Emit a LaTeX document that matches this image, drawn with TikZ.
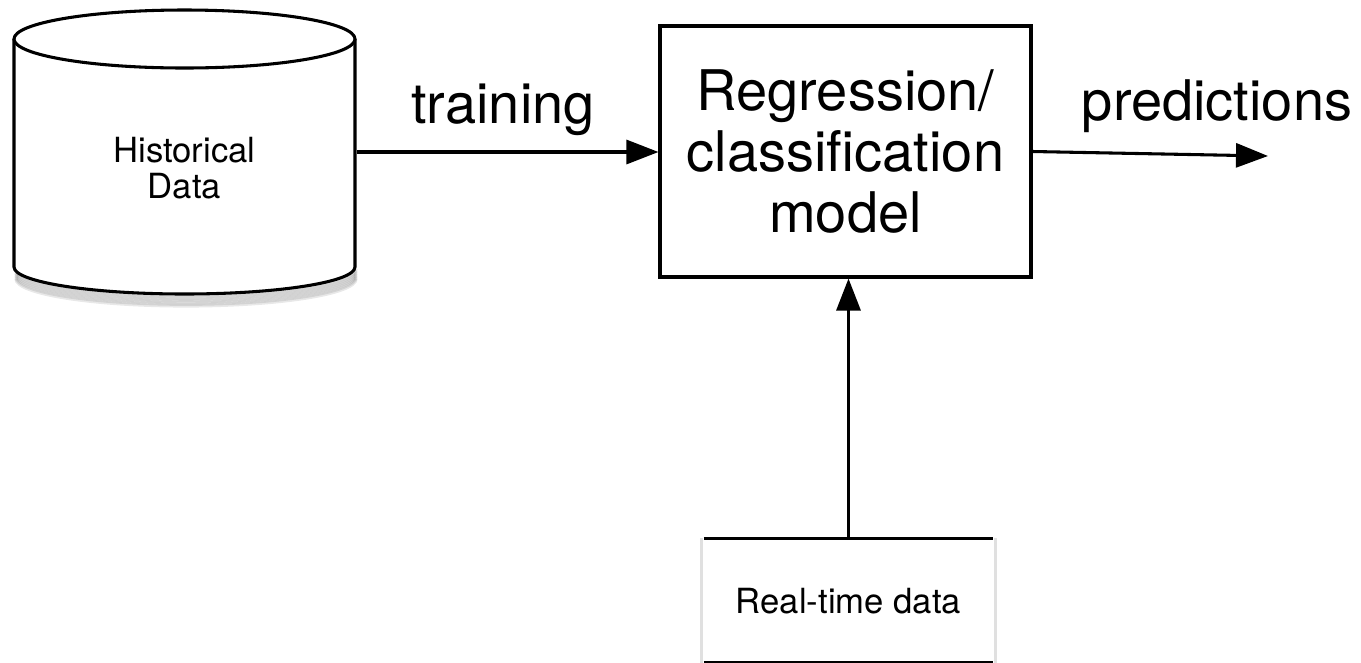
\documentclass[tikz,border=0pt]{standalone}
\usepackage{fontspec}
\setmainfont{TeX Gyre Heros}
\usetikzlibrary{arrows.meta}
\begin{document}
\begin{tikzpicture}[x=0.75pt,y=-0.75pt,line width=2.3pt,
  flow/.style={-{Triangle[length=24pt,width=18pt]}},
  bigtext/.style={font=\fontsize{42}{46}\selectfont},
  smalltext/.style={font=\fontsize{26}{27}\selectfont},
  shade/.style={draw=black,line width=2.5pt,opacity=0.09}]
\useasboundingbox (0,0) rectangle (1361,662);

% database cylinder: soft shadow under the base
\foreach \d in {1,2,...,7}
  \draw[shade] (16,267+\d*1.7) arc[start angle=180,end angle=0,x radius=170,y radius=27];
\fill[white] (14,39) -- (14,267) arc[start angle=180,end angle=0,x radius=170.5,y radius=27] -- (355,39) -- cycle;
\draw (14,39) -- (14,267) arc[start angle=180,end angle=0,x radius=170.5,y radius=27] -- (355,39);
\draw[fill=white] (184.5,39) ellipse [x radius=170.5,y radius=29];
\node[minimum width=255.75pt,minimum height=171pt,inner sep=0pt] (hist) at (184.5,152) {};
\node[smalltext,align=center,inner sep=0pt] (histtxt) at (184.5,168.5) {Historical\\Data};

% model box
\node[draw,minimum width=278.25pt,minimum height=188.25pt,inner sep=0pt,
      bigtext,align=center] (model) at (845.5,151.5) {Regression/\\classification\\model};

% real-time data source: open sides with a faint edge
\node[minimum width=214.5pt,minimum height=91.5pt,inner sep=0pt,
      font=\fontsize{26}{27}\selectfont] (rt) at (848.5,601) {Real-time data};
\draw[black!12,line width=2.5pt] ([xshift=-2pt]rt.north west) -- ([xshift=-2pt]rt.south west);
\draw[black!12,line width=2.5pt] ([xshift=2pt]rt.north east) -- ([xshift=2pt]rt.south east);
\draw (rt.north west) -- (rt.north east);
\draw ([yshift=1pt]rt.south west) -- ([yshift=1pt]rt.south east);

% connectors
\draw[flow] (hist.east) -- (hist.east -| model.west);
\coordinate (pend) at (1268,156);
\draw[flow] (model.east) -- (pend);
\draw[flow] (rt.north) -- (rt.north |- model.south);

% connector labels
\node[bigtext,anchor=base,inner sep=0pt] (trainlbl) at (503,123) {training};
\node[bigtext,anchor=base,inner sep=0pt] (predlbl) at (1217,120) {predictions};
\end{tikzpicture}
\end{document}
